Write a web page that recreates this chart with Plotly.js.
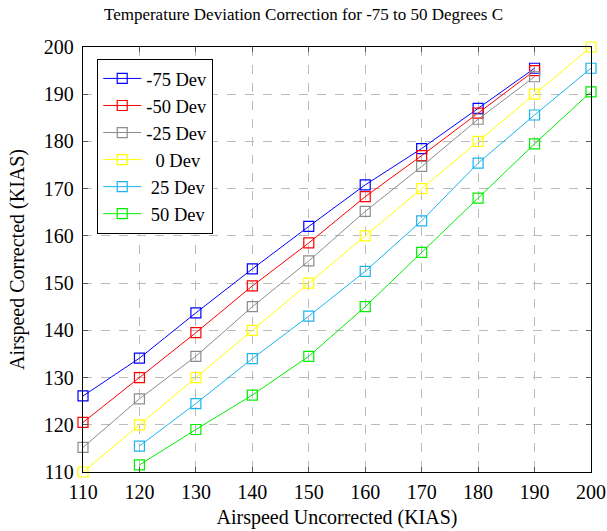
<!DOCTYPE html>
<html><head><meta charset="utf-8">
<script src="https://cdn.plot.ly/plotly-3.0.1.min.js"></script>
<style>body{margin:0;background:#fff}#c{width:607px;height:531px}</style>
</head><body><div id="c"></div>
<script>
const xFull = [110,120,130,140,150,160,170,180,190,200];
const xNeg  = [110,120,130,140,150,160,170,180,190];
const xPos  = [120,130,140,150,160,170,180,190,200];
const names = ['-75 Dev','-50 Dev','-25 Dev','0 Dev','25 Dev','50 Dev'];
const legendLabels = ['-75 Dev','-50 Dev','-25 Dev','&nbsp;&nbsp;0 Dev','&nbsp;25 Dev','&nbsp;50 Dev'];
const devM75 = [126.1,134.1,143.7,153.0,162.0,170.8,178.5,187.0,195.5];
const devM50 = [120.5,130.0,139.5,149.4,158.5,168.3,177.0,186.0,195.0];
const devM25 = [115.2,125.5,134.5,145.0,154.7,165.2,174.7,184.7,193.7];
const dev0   = [110,120,130,140,150,160,170,180,190,200];
const dev25  = [115.5,124.5,134.0,143.0,152.5,163.2,175.4,185.6,195.5];
const dev50  = [111.5,119.0,126.3,134.5,145.0,156.5,168.0,179.5,190.5];
const colors = ['#0000ff','#ff0000','#8c8c8c','#ffff00','#1ab4ee','#00ee00'];
const xs = [xNeg,xNeg,xNeg,xFull,xPos,xPos];
const ys = [devM75,devM50,devM25,dev0,dev25,dev50];
const traces = ys.map((y,i)=>({
  x: xs[i], y: y, name: legendLabels[i], type:'scatter', mode:'lines+markers',
  line:{color:colors[i], width:1},
  marker:{symbol:'square-open', size:10, color:colors[i], line:{width:1.2, color:colors[i]}},
  cliponaxis:false
}));
const font = {family:'"Liberation Serif", "Times New Roman", serif', color:'#000'};
const axisCommon = {
  showline:true, linecolor:'#000', linewidth:1.2, mirror:'ticks',
  ticks:'inside', ticklen:5, tickcolor:'#555', tickwidth:1,
  showgrid:true, gridcolor:'#bbbbbb', griddash:'dash', gridwidth:1,
  zeroline:false, tickfont:{...font, size:20}
};
Plotly.newPlot('c', traces, {
  width:607, height:531,
  margin:{l:83, r:16, t:47, b:59},
  paper_bgcolor:'#fff', plot_bgcolor:'#fff',
  font: font,
  title:{text:'Temperature Deviation Correction for -75 to 50 Degrees C', font:{...font, size:17}, x:0.5, xanchor:'center', y:0.985, yanchor:'top'},
  xaxis:{...axisCommon, range:[110,200], dtick:10, ticklabelstandoff:2, title:{text:'Airspeed Uncorrected (KIAS)', font:{...font,size:20}, standoff:7}},
  yaxis:{...axisCommon, range:[110,200], dtick:10, ticklabelstandoff:4, title:{text:'Airspeed Corrected (KIAS)', font:{...font,size:20}, standoff:13}},
  legend:{x:0.028, y:0.972, xanchor:'left', yanchor:'top', bordercolor:'#000', borderwidth:1, bgcolor:'#fff',
    font:{...font, size:18.5}, itemwidth:38, tracegroupgap:0},
  showlegend:true
}, {staticPlot:true});
</script></body></html>
